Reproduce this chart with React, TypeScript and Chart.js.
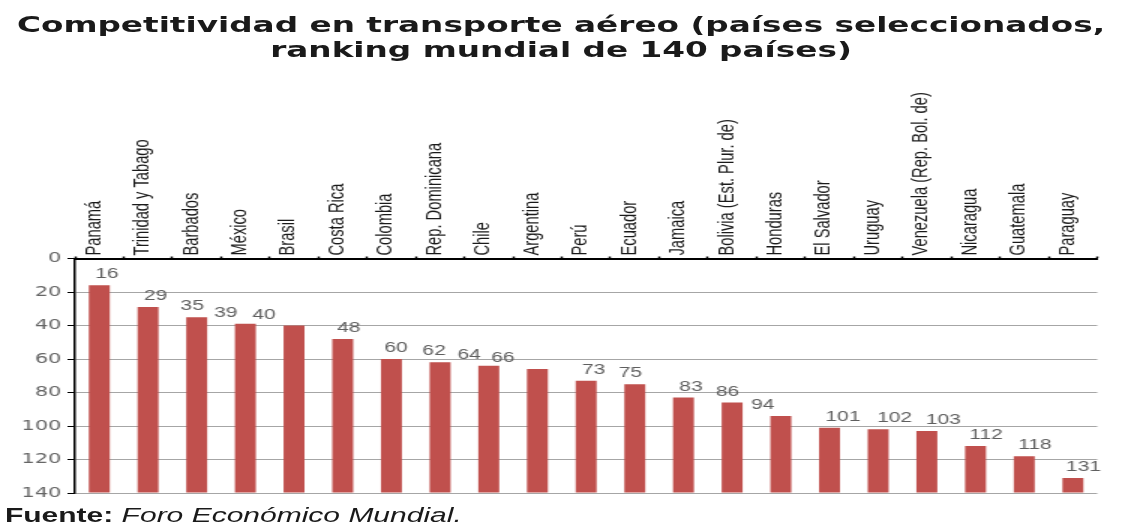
import React, { useEffect, useRef } from 'react';
import { Chart, registerables } from 'chart.js';

Chart.register(...registerables);

// ---- data ----
const categories = [
  'Panamá',
  'Trinidad y Tabago',
  'Barbados',
  'México',
  'Brasil',
  'Costa Rica',
  'Colombia',
  'Rep. Dominicana',
  'Chile',
  'Argentina',
  'Perú',
  'Ecuador',
  'Jamaica',
  'Bolivia (Est. Plur. de)',
  'Honduras',
  'El Salvador',
  'Uruguay',
  'Venezuela (Rep. Bol. de)',
  'Nicaragua',
  'Guatemala',
  'Paraguay',
];

const rankings = [16, 29, 35, 39, 40, 48, 60, 62, 64, 66, 73, 75, 83, 86, 94, 101, 102, 103, 112, 118, 131];

const yTickValues = [0, 20, 40, 60, 80, 100, 120, 140];
const totalCountries = 140;

// ---- styling (not data) ----
const labelNudge = [5, 5, -3, -13, -20, 4, 3, -4, -13, -23, 5, -3, 5, -3, -12, 9, 11, 11, 7, 7, 7];
const STRETCH_X = 1.5;
const BASE_W = 748;
const H = 523;

export default function App() {
  const ref = useRef<HTMLCanvasElement>(null);

  useEffect(() => {
    const canvas = ref.current;
    if (!canvas) return;

    const valueLabels = {
      id: 'valueLabels',
      afterDatasetsDraw(chart: any) {
        const ctx = chart.ctx;
        const meta = chart.getDatasetMeta(0);
        ctx.save();
        ctx.font = '14px "Liberation Sans", Arial, sans-serif';
        ctx.fillStyle = '#5f5f5f';
        ctx.textAlign = 'center';
        ctx.textBaseline = 'alphabetic';
        meta.data.forEach((bar: any, i: number) => {
          ctx.fillText(String(rankings[i]), bar.x + (labelNudge[i] || 0), bar.y - 7);
        });
        ctx.restore();
      },
    };

    const chart = new Chart(canvas, {
      type: 'bar',
      data: {
        labels: categories,
        datasets: [
          {
            data: rankings,
            base: totalCountries,
            backgroundColor: '#C0504D',
            borderWidth: 0,
            barPercentage: 0.43,
            categoryPercentage: 1,
          } as any,
        ],
      },
      options: {
        responsive: false,
        animation: false,
        devicePixelRatio: 1,
        layout: { padding: { top: 0, left: 0, right: 16.5, bottom: 30 } },
        plugins: {
          legend: { display: false },
          tooltip: { enabled: false },
          title: { display: false },
        },
        scales: {
          x: {
            position: 'top',
            offset: true,
            grid: {
              display: true,
              drawOnChartArea: false,
              drawTicks: true,
              tickLength: 2,
              tickColor: '#000',
              tickWidth: 1.5,
              offset: true,
            },
            border: { display: true, color: '#000', width: 2 },
            ticks: {
              autoSkip: false,
              maxRotation: 90,
              minRotation: 90,
              padding: 1,
              labelOffset: 14,
              color: '#1a1a1a',
              font: { family: '"Liberation Sans", Arial, sans-serif', size: 14.7 },
            },
            afterFit: (s: any) => {
              s.height = 258.5;
            },
          },
          y: {
            reverse: true,
            min: 0,
            max: totalCountries,
            afterBuildTicks: (s: any) => {
              s.ticks = yTickValues.map((v) => ({ value: v }));
            },
            grid: {
              color: '#A6A6A6',
              lineWidth: 1,
              drawTicks: true,
              tickLength: 5,
              tickColor: '#000',
            },
            border: { display: true, color: '#000', width: 1.5 },
            ticks: {
              padding: 4,
              color: '#666',
              font: { family: '"DejaVu Sans", Verdana, sans-serif', size: 14 },
            },
            afterFit: (s: any) => {
              s.width = 50;
            },
          },
        },
      } as any,
      plugins: [valueLabels],
    });

    return () => chart.destroy();
  }, []);

  return (
    <div style={{ position: 'fixed', left: 0, top: 0, width: 1122, height: H, overflow: 'hidden', background: '#fff' }}>
      <div
        style={{
          position: 'absolute',
          left: 0,
          top: 0,
          width: BASE_W,
          height: H,
          transform: `scaleX(${STRETCH_X})`,
          transformOrigin: '0 0',
        }}
      >
        <canvas ref={ref} width={BASE_W} height={H} style={{ display: 'block', position: 'absolute', left: 0, top: 0 }} />
        <div
          style={{
            position: 'absolute',
            left: 0,
            top: 11.6,
            width: BASE_W,
            textAlign: 'center',
            fontFamily: '"DejaVu Sans", Verdana, sans-serif',
            fontWeight: 'bold',
            fontSize: 21.8,
            lineHeight: '25px',
            color: '#1a1a1a',
            whiteSpace: 'nowrap',
          }}
        >
          Competitividad en transporte aéreo (países seleccionados,
          <br />
          ranking mundial de 140 países)
        </div>
        <div
          style={{
            position: 'absolute',
            left: 3.3,
            top: 504.5,
            fontFamily: '"Liberation Sans", Arial, sans-serif',
            fontSize: 20,
            lineHeight: '20px',
            color: '#1a1a1a',
            whiteSpace: 'nowrap',
          }}
        >
          <span style={{ fontWeight: 'bold' }}>Fuente:</span> <span style={{ fontStyle: 'italic' }}>Foro Económico Mundial.</span>
        </div>
      </div>
    </div>
  );
}
